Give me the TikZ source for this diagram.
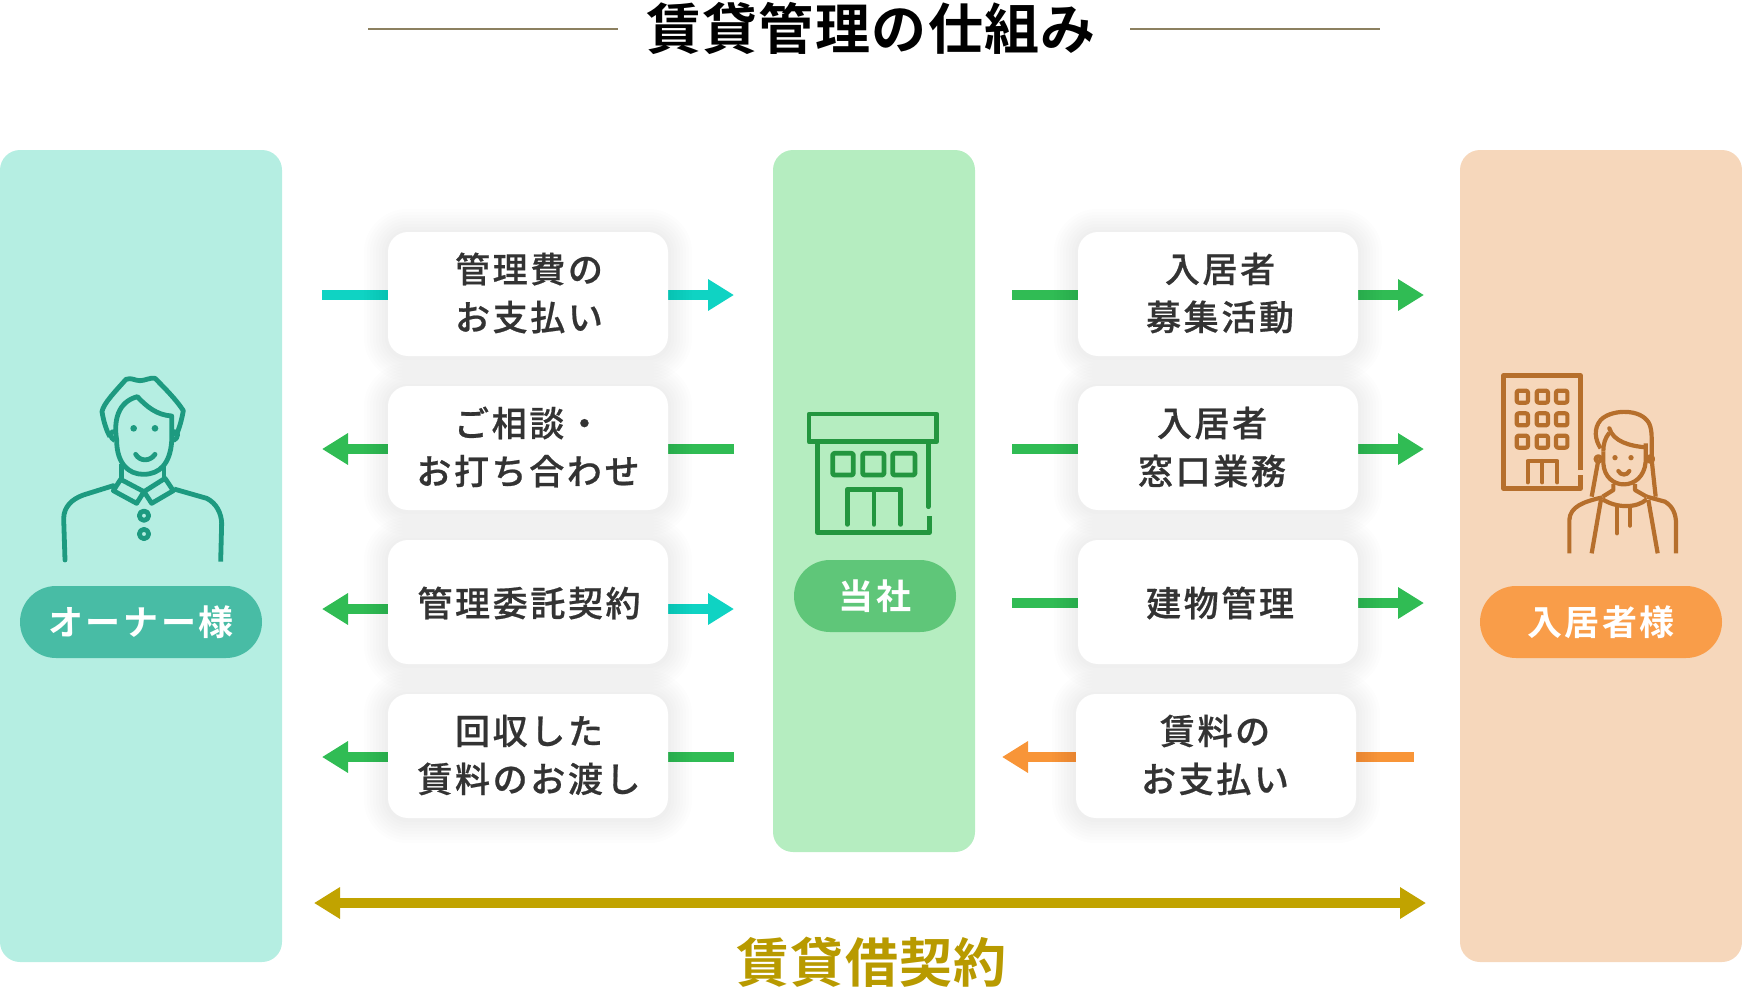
\documentclass[tikz,border=0pt]{standalone}
\usepackage{fontspec}
\usetikzlibrary{arrows.meta,calc}
\newfontfamily\jpm[LetterSpace=7.5,FakeBold=0.6]{Noto Sans CJK JP Medium}
\newfontfamily\jpb[LetterSpace=7.5]{Noto Sans CJK JP Bold}
\newfontfamily\jpt[LetterSpace=2.5]{Noto Sans CJK JP Bold}
\definecolor{pL}{HTML}{B5EEE2}\definecolor{pC}{HTML}{B5EDC0}\definecolor{pR}{HTML}{F6D7BB}
\definecolor{piL}{HTML}{48BCA5}\definecolor{piC}{HTML}{5FC679}\definecolor{piR}{HTML}{F99D49}
\definecolor{icL}{HTML}{1D9A80}\definecolor{icC}{HTML}{23963F}\definecolor{icR}{HTML}{B66F2C}
\definecolor{cteal}{HTML}{0FD3C3}\definecolor{cgreen}{HTML}{30BC54}\definecolor{corange}{HTML}{F89538}
\definecolor{cgold}{HTML}{C1A300}\definecolor{cgoldt}{HTML}{B89A00}\definecolor{cline}{HTML}{8C8060}
\definecolor{ctext}{HTML}{333333}
\pgfdeclarelayer{bgl}\pgfdeclarelayer{shad}\pgfdeclarelayer{front}
\pgfsetlayers{bgl,main,shad,front}
\tikzset{
  panel/.style={rectangle,rounded corners=20pt,inner sep=0pt,draw=none},
  pill/.style={rectangle,rounded corners=36pt,inner sep=0pt,minimum height=72pt,text=white,
     font=\jpb\fontsize{35}{40}\selectfont},
  card/.style={rectangle,rounded corners=20pt,inner sep=0pt,fill=white,minimum width=280pt,minimum height=124pt},
  cardtext/.style={inner sep=0pt,align=center,text=ctext,font=\jpm\fontsize{35}{48}\selectfont},
  bar/.style={line width=10pt},
  tipped/.style={-{Triangle[length=26pt,width=30pt]}},
  icon/.style={line width=4.8pt,line join=round,fill=none},
}
\newcommand{\softshadow}[1]{%
  \foreach \e in {3,6,...,24}{%
    \pgfmathsetmacro{\rr}{20+\e}
    \fill[black,opacity=.006,rounded corners=\rr pt]
      ($(#1.north west)+(-\e,-\e+1)$) rectangle ($(#1.south east)+(\e,\e+1)$);}}
\begin{document}
\begin{tikzpicture}[x=1pt,y=-1pt]
\useasboundingbox (0,0) rectangle (1742,988);
\clip (0,0) rectangle (1742,988);
\begin{pgfonlayer}{bgl}
\node[panel,fill=pL,minimum width=282pt,minimum height=812pt] (owner) at (141,556) {};
\node[panel,fill=pC,minimum width=202pt,minimum height=702pt] (company) at (874,501) {};
\node[panel,fill=pR,minimum width=282pt,minimum height=812pt] (tenant) at (1601,556) {};
\end{pgfonlayer}
% title
\node[inner sep=0pt,text=black,font=\jpt\fontsize{55}{60}\selectfont] (title) at (871,28) {賃貸管理の仕組み};
\coordinate (tl1) at (368,28.7);\coordinate (tl2) at (618,28.7);
\coordinate (tr1) at (1130,28.7);\coordinate (tr2) at (1380,28.7);
\draw[cline,line width=1.6pt] (tl1) -- (tl2);
\draw[cline,line width=1.6pt] (tr1) -- (tr2);
% pills
\node[pill,fill=piL,minimum width=242pt] (pillowner) at (141,622) {オーナー様};
\node[pill,fill=piC,minimum width=162pt] (pillcompany) at (875,596) {当社};
\node[pill,fill=piR,minimum width=242pt] (pilltenant) at (1601,622) {入居者様};
% cards
\begin{pgfonlayer}{front}
\node[card] (b1) at (528,294) {};
\node[card] (b2) at (528,448) {};
\node[card] (b3) at (528,602) {};
\node[card] (b4) at (528,756) {};
\node[card] (c1) at (1218,294) {};
\node[card] (c2) at (1218,448) {};
\node[card] (c3) at (1218,602) {};
\node[card] (c4) at (1216,756) {};
\node[cardtext] (tb1) at (529,293) {管理費の\\お支払い};
\node[cardtext] (tb2) at (528,447) {ご相談・\\お打ち合わせ};
\node[cardtext] (tb3) at (529,603) {管理委託契約};
\node[cardtext] (tb4) at (529,755) {回収した\\賃料のお渡し};
\node[cardtext] (tc1) at (1220,293) {入居者\\募集活動};
\node[cardtext] (tc2) at (1212,447) {入居者\\窓口業務};
\node[cardtext] (tc3) at (1220,603) {建物管理};
\node[cardtext] (tc4) at (1215,755) {賃料の\\お支払い};
\end{pgfonlayer}
\begin{pgfonlayer}{shad}
\softshadow{b1}\softshadow{b2}\softshadow{b3}\softshadow{b4}
\softshadow{c1}\softshadow{c2}\softshadow{c3}\softshadow{c4}
\end{pgfonlayer}
% left connectors
\coordinate (la1) at (322,295);\coordinate (lz1) at (734,295);
\coordinate (la2) at (322,449);\coordinate (lz2) at (734,449);
\coordinate (la3) at (322,609);\coordinate (lz3) at (734,609);
\coordinate (la4) at (322,757);\coordinate (lz4) at (734,757);
\draw[bar,cteal] (la1) -- (b1.west |- la1);
\draw[bar,cteal,tipped] (b1.east |- lz1) -- (lz1);
\draw[bar,cgreen,tipped] (b2.west |- la2) -- (la2);
\draw[bar,cgreen] (b2.east |- lz2) -- (lz2);
\draw[bar,cgreen,tipped] (b3.west |- la3) -- (la3);
\draw[bar,cteal,tipped] (b3.east |- lz3) -- (lz3);
\draw[bar,cgreen,tipped] (b4.west |- la4) -- (la4);
\draw[bar,cgreen] (b4.east |- lz4) -- (lz4);
% right connectors
\coordinate (ra1) at (1012,295);\coordinate (rz1) at (1424,295);
\coordinate (ra2) at (1012,449);\coordinate (rz2) at (1424,449);
\coordinate (ra3) at (1012,603);\coordinate (rz3) at (1424,603);
\coordinate (ra4) at (1002,757);\coordinate (rz4) at (1414,757);
\draw[bar,cgreen] (ra1) -- (c1.west |- ra1);
\draw[bar,cgreen,tipped] (c1.east |- rz1) -- (rz1);
\draw[bar,cgreen] (ra2) -- (c2.west |- ra2);
\draw[bar,cgreen,tipped] (c2.east |- rz2) -- (rz2);
\draw[bar,cgreen] (ra3) -- (c3.west |- ra3);
\draw[bar,cgreen,tipped] (c3.east |- rz3) -- (rz3);
\draw[bar,corange,tipped] (c4.west |- ra4) -- (ra4);
\draw[bar,corange] (c4.east |- rz4) -- (rz4);
% lease
\coordinate (ls) at (314,903);\coordinate (le) at (1426,903);
\draw[bar,cgold,{Triangle[length=26pt,width=30pt]}-{Triangle[length=26pt,width=30pt]}] (ls) -- (le);
\node[inner sep=0pt,text=cgoldt,font=\jpt\fontsize{53}{60}\selectfont] (lease) at (871.5,962.5) {賃貸借契約};
% man icon
\begin{scope}[shift={(0,340)},scale=1/3,icon,icL]
\draw (330,290) .. controls (318,270) and (310,240) .. (306,215) .. controls (310,190) and (350,150) .. (378,118)
  .. controls (395,112) and (405,122) .. (420,122) .. controls (435,122) and (450,112) .. (465,115)
  .. controls (490,140) and (530,180) .. (550,212) .. controls (545,240) and (538,265) .. (527,290);
\draw (350,300) .. controls (340,240) and (355,185) .. (412,170) .. controls (440,200) and (470,225) .. (515,228) -- (515,305)
  .. controls (510,370) and (480,403) .. (430,403) .. controls (385,403) and (350,370) .. (350,300);
\draw (345,275) .. controls (328,270) and (328,295) .. (345,302);
\draw (520,275) .. controls (537,270) and (537,295) .. (520,302);
\fill[icL] (401,265) circle (10);\fill[icL] (465,265) circle (10);
\draw[line cap=round] (407,343) .. controls (420,365) and (450,365) .. (465,343);
\draw (365,372) -- (365,418);\draw (492,375) -- (492,415);
\draw (362,418) -- (340,452) -- (410,490) -- (432,455) -- cycle;
\draw (495,415) -- (520,452) -- (455,490) -- (432,455) -- cycle;
\draw[line cap=round] (340,437) -- (250,465) .. controls (215,478) and (192,500) .. (191,535) -- (195,660);
\draw (522,447) -- (620,475) .. controls (650,490) and (664,520) .. (665,550) -- (662,665);
\draw (432,527) circle (14);\draw (432,582) circle (14);
\end{scope}
% shop icon
\begin{scope}[shift={(770,390)},scale=1/3,icon,icC]
\draw (117,72) rectangle (500,155);
\draw (143,155) -- (143,428) -- (478,428) -- (478,378);
\draw[line cap=round] (475,155) -- (475,350);
\draw[rounded corners=2pt] (188,190) rectangle (250,255);
\draw[rounded corners=2pt] (278,190) rectangle (342,255);
\draw[rounded corners=2pt] (368,190) rectangle (435,255);
\draw[line cap=round] (232,403) -- (232,298) -- (392,298) -- (392,403);
\draw[line cap=round] (312,298) -- (312,403);
\end{scope}
% tenant icon
\begin{scope}[shift={(1470,360)},scale=1/3,icon,icR]
\draw (332,330) -- (332,47) -- (100,47) -- (100,385) -- (332,385) -- (332,345);
\foreach \wx in {157,217,275}\foreach \wy in {110,178,245}{
  \draw[line width=4.2pt,rounded corners=2pt] (\wx-17,\wy-18) rectangle (\wx+17,\wy+18);}
\draw[line width=4.2pt,line cap=round] (173,367) -- (173,303) -- (262,303) -- (262,367);
\draw[line width=4.2pt,line cap=round] (217,303) -- (217,367);
\begin{scope}[line width=4.2pt]
\draw (385,300) -- (365,410);
\draw (392,265) .. controls (375,240) and (370,205) .. (392,180) .. controls (420,150) and (500,145) .. (530,180) .. controls (545,195) and (545,225) .. (545,240) -- (545,300) -- (557,410);
\draw[line cap=round] (418,205) .. controls (430,245) and (480,258) .. (527,262);
\draw (418,218) .. controls (405,235) and (400,250) .. (400,275);
\draw (400,275) -- (400,310) .. controls (405,395) and (520,395) .. (527,305) -- (527,250);
\fill[icR] (435,293) circle (8);\fill[icR] (483,293) circle (8);
\draw[line cap=round] (445,333) .. controls (452,347) and (472,347) .. (478,333);
\draw (430,372) -- (430,390) -- (398,410);\draw (495,372) -- (495,390) -- (530,410);
\draw (298,580) -- (298,480) .. controls (300,440) and (340,425) .. (398,412);
\draw (530,410) -- (585,425) .. controls (610,440) and (618,465) .. (618,490) -- (618,580);
\draw (398,418) .. controls (440,445) and (500,445) .. (530,418);
\draw (393,418) -- (365,580);\draw (535,420) -- (563,580);
\draw[line cap=round] (441,440) -- (441,520);\draw[line cap=round] (480,440) -- (480,497);
\draw (385,297) circle (8);\draw (541,297) circle (8);
\end{scope}
\end{scope}
\end{tikzpicture}
\end{document}
